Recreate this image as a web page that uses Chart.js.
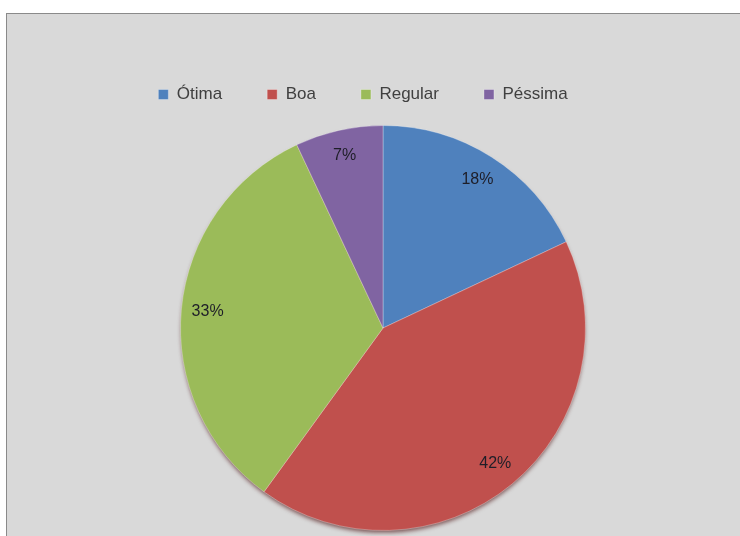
<!DOCTYPE html>
<html>
<head>
<meta charset="utf-8">
<script src="https://cdn.jsdelivr.net/npm/chart.js@4"></script>
<style>
  html, body { margin: 0; padding: 0; background: #fff; overflow: hidden; }
  #box {
    position: absolute; left: 6px; top: 13px;
    width: 760px; height: 540px;
    border: 1px solid #8a8a8a;
    background: #d9d9d9;
  }
  #chart { display: block; }
</style>
</head>
<body>
<div id="box">
  <canvas id="chart" width="733" height="522"></canvas>
</div>
<script>
// categorias e valores (%)
const categorias = ['Ótima', 'Boa', 'Regular', 'Péssima'];
const valores = [18, 42, 33, 7];
const cores = ['#4f81bd', '#c0504d', '#9bbb59', '#8064a2'];

// sombra escura na borda de baixo (efeito 3D do original)
const sombraPlugin = {
  id: 'sombra',
  beforeDatasetsDraw(chart) {
    const arc = chart.getDatasetMeta(0).data[0];
    if (!arc) return;
    const p = arc.getProps(['x', 'y', 'outerRadius'], true);
    const ctx = chart.ctx;
    ctx.save();
    ctx.shadowColor = 'rgba(70,10,10,0.65)';
    ctx.shadowBlur = 4;
    ctx.shadowOffsetY = 3;
    ctx.fillStyle = '#c0504d';
    ctx.beginPath();
    ctx.arc(p.x, p.y, p.outerRadius - 1, 0, Math.PI * 2);
    ctx.fill();
    ctx.restore();
  }
};

// rótulos de porcentagem dentro das fatias
const rotulosPlugin = {
  id: 'rotulos',
  afterDatasetsDraw(chart) {
    const ctx = chart.ctx;
    const meta = chart.getDatasetMeta(0);
    ctx.save();
    ctx.font = '16px "Liberation Sans", Arial, sans-serif';
    ctx.fillStyle = '#1e1e28';
    ctx.textAlign = 'center';
    ctx.textBaseline = 'middle';
    meta.data.forEach((arc, i) => {
      const p = arc.getProps(['x', 'y', 'startAngle', 'endAngle', 'outerRadius'], true);
      const ang = (p.startAngle + p.endAngle) / 2;
      const r = p.outerRadius * 0.87;
      ctx.fillText(valores[i] + '%', p.x + Math.cos(ang) * r, p.y + Math.sin(ang) * r);
    });
    ctx.restore();
  }
};

const ctx = document.getElementById('chart').getContext('2d');
new Chart(ctx, {
  type: 'pie',
  data: {
    labels: categorias,
    datasets: [{
      data: valores,
      backgroundColor: cores,
      borderColor: 'rgba(255,255,255,0.3)',
      borderWidth: 1,
    }],
  },
  options: {
    responsive: false,
    animation: false,
    layout: { padding: { top: 27, bottom: 5, left: 0, right: 21 } },
    plugins: {
      legend: {
        position: 'top',
        labels: {
          boxWidth: 10,
          boxHeight: 10,
          padding: 45,
          color: '#404040',
          font: { family: '"Liberation Sans", Arial, sans-serif', size: 17 },
        },
      },
      // título vazio à esquerda só para deslocar a pizza
      title: {
        display: true,
        position: 'left',
        text: '',
        font: { size: 12 },
        padding: { top: 13, bottom: 12.6 },
      },
      // espaço entre a legenda e a pizza
      subtitle: {
        display: true,
        position: 'top',
        weight: 500,
        text: '',
        font: { size: 10 },
        padding: 0,
      },
      tooltip: { enabled: false },
    },
  },
  plugins: [sombraPlugin, rotulosPlugin],
});
</script>
</body>
</html>
